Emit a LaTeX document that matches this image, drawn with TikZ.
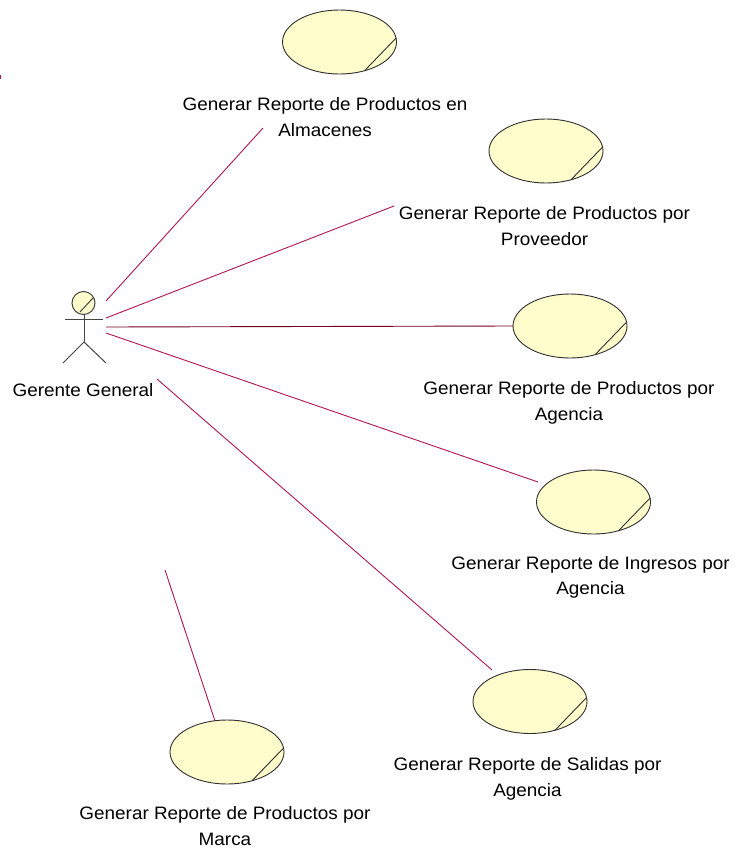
\documentclass[tikz,border=0pt]{standalone}
\usepackage{fontspec}
\newfontfamily\rosefont[FakeStretch=1.05]{Liberation Sans}
\usetikzlibrary{shapes.geometric}
\definecolor{ucfill}{RGB}{255,253,204}
\definecolor{ucline}{RGB}{48,48,48}
\definecolor{assoc}{RGB}{178,22,82}
\definecolor{assocdark}{RGB}{118,0,34}
\tikzset{
  usecase/.style={ellipse, draw=ucline, fill=ucfill, line width=0.9pt,
    minimum width=114pt, minimum height=64pt, inner sep=0pt, outer sep=0pt},
  ucmark/.style={draw=ucline, line width=0.9pt},
  uclabel/.style={anchor=north, align=center, inner sep=0pt,
    font=\fontsize{18}{25.5}\selectfont\rosefont},
  actorline/.style={draw=ucline!90, line width=1pt},
  link/.style={draw=assoc, line width=0.9pt},
  linkdark/.style={draw=assocdark, line width=0.9pt}
}
\begin{document}
\begin{tikzpicture}[x=1pt,y=-1pt]
  \fill[white] (0,0) rectangle (735,849);
  \useasboundingbox (0,0) rectangle (735,849);

  % use cases
  \node[usecase] (almacenes) at (339.5,42) {};
  \node[usecase] (proveedor) at (546,151) {};
  \node[usecase] (agencia)   at (570,326) {};
  \node[usecase] (ingresos)  at (593.5,502) {};
  \node[usecase] (salidas)   at (530,701.5) {};
  \node[usecase] (marca)     at (227,752) {};
  \foreach \u in {almacenes,proveedor,agencia,ingresos,salidas,marca}
    \draw[ucmark] (\u.-49) -- (\u.4);

  % use case names
  \node[uclabel] (lalmacenes) at (325,97.5) {Generar Reporte de Productos en\\Almacenes};
  \node[uclabel] (lproveedor) at (544.5,206.5) {Generar Reporte de Productos por\\Proveedor};
  \node[uclabel] (lagencia)   at (569,381.5) {Generar Reporte de Productos por\\Agencia};
  \node[uclabel] (lingresos)  at (590.5,556) {Generar Reporte de Ingresos por\\Agencia};
  \node[uclabel] (lsalidas)   at (527.5,757.5) {Generar Reporte de Salidas por\\Agencia};
  \node[uclabel] (lmarca)     at (225,806.5) {Generar Reporte de Productos por\\Marca};

  % actor
  \coordinate (actor) at (83.5,303);
  \draw[actorline, fill=ucfill] (actor) circle[radius=11.5];
  \draw[actorline] (actor) ++(-3.5,9) -- ++(13,-14);
  \draw[actorline] (actor) ++(-18.5,16) -- ++(38,0);
  \draw[actorline] (actor) ++(0.5,11.5) -- ++(0,27.5) coordinate (hip);
  \draw[actorline] (hip) -- ++(-21,21);
  \draw[actorline] (hip) -- ++(22,21);
  \node[uclabel] (gerente) at (83,383.5) {Gerente General};

  % association ends
  \coordinate (a1) at (106,301);  \coordinate (b1) at (263,128);
  \coordinate (a2) at (106,318);  \coordinate (b2) at (394,206);
  \coordinate (a3) at (106,327);
  \coordinate (a4) at (106,333);  \coordinate (b4) at (538,482);
  \coordinate (a5) at (157,379);  \coordinate (b5) at (492,670);
  \coordinate (a6) at (165,570);  \coordinate (b6) at (215,721);

  % associations
  \draw[link] (a1) -- (b1);
  \draw[link] (a2) -- (b2);
  \draw[linkdark] (a3) -- (agencia.west);
  \draw[link] (a4) -- (b4);
  \draw[link] (a5) -- (b5);
  \draw[link] (a6) -- (b6);
  \draw[link] (0.6,75) -- (0.6,79);
\end{tikzpicture}
\end{document}
